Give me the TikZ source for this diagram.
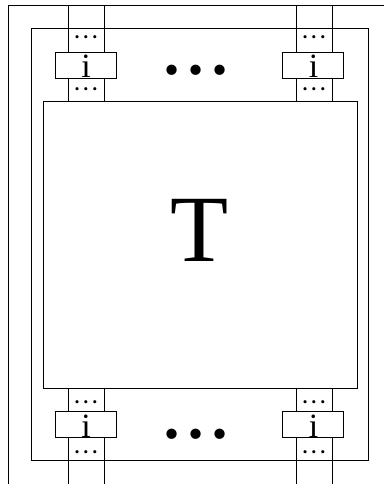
\documentclass[tikz,border=0pt]{standalone}
\usepackage{fontspec}
\setmainfont{Liberation Serif}
\begin{document}
\begin{tikzpicture}[x=1pt,y=-1pt,line width=0.8pt,
  ibox/.style={draw,fill=white,minimum width=61pt,minimum height=26pt,inner sep=0pt},
  bigdots/.style={inner sep=0pt,anchor=base,font=\fontsize{43}{43}\selectfont,text height=10pt,text depth=0pt},
  smalldots/.style={inner sep=0pt,anchor=base,font=\fontsize{13}{13}\selectfont,text height=3pt,text depth=0pt},
  lbl/.style={inner sep=0pt,anchor=base}]
\useasboundingbox (0,0) rectangle (384,484);
% outer frame (only top and left visible)
\coordinate (oTR) at (384,5);
\coordinate (oTL) at (8,5);
\coordinate (oBL) at (8,484);
\draw (oTR) -- (oTL) -- (oBL);
% middle frame
\draw (31,28) rectangle (368,460);
% T box
\node[draw,minimum width=314pt,minimum height=287pt,inner sep=0pt] (Tbox) at (200,244.5) {};
\node[lbl,font=\fontsize{95}{95}\selectfont] (Tlbl) at (200,261) {T};
% wires
\foreach \x/\n in {68/a,104/b,296/c,332/d}{
  \coordinate (top\n) at (\x,5);
  \coordinate (tb\n) at (\x,101);
  \coordinate (bb\n) at (\x,388);
  \coordinate (bot\n) at (\x,484);
  \draw (top\n) -- (tb\n);
  \draw (bb\n) -- (bot\n);
}
% i boxes
\node[ibox] (i1) at (85.5,65) {};
\node[ibox] (i2) at (313,65) {};
\node[ibox] (i3) at (85.5,424.5) {};
\node[ibox] (i4) at (313,424.5) {};
\foreach \n/\x/\y in {i1l/86/78,i2l/313.5/78,i3l/86/437,i4l/313.5/437}{
  \node[lbl,font=\fontsize{34}{34}\selectfont] (\n) at (\x,\y) {i};
}
% small dots
\foreach \n/\x/\y in {s1/86/37,s2/86/89,s3/314/37,s4/314/89,s5/86/402,s6/86/452,s7/314/402,s8/314/452}{
  \node[smalldots] (\n) at (\x,\y+4.3) {•\hspace{4.4pt}•\hspace{4.4pt}•};
}
% big dots
\foreach \n/\y in {t/69,b/433}{
  \node[bigdots] (d\n) at (196,\y+15.5) {•\hspace{8.5pt}•\hspace{8.5pt}•};
}
\end{tikzpicture}
\end{document}
